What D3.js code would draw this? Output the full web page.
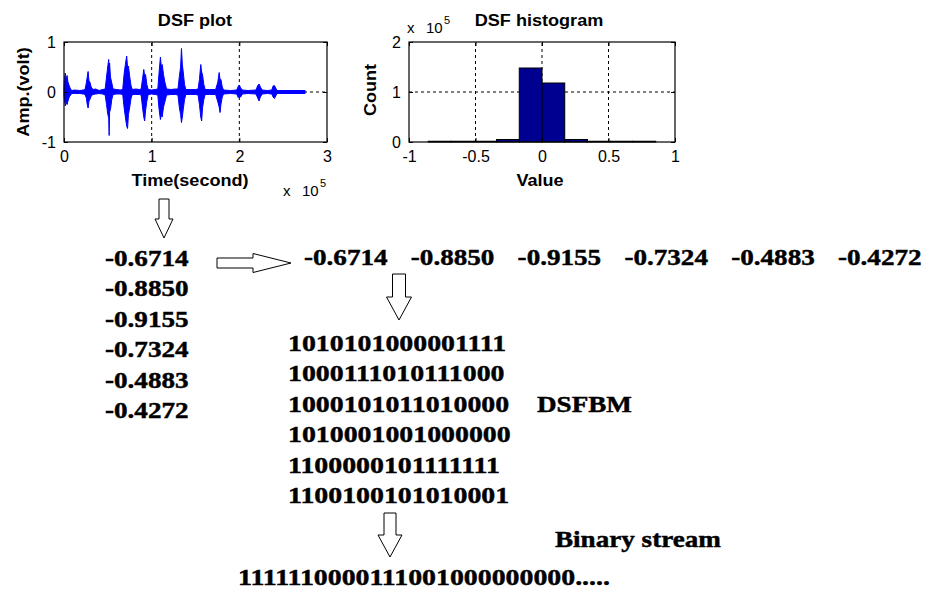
<!DOCTYPE html>
<html>
<head>
<meta charset="utf-8">
<script src="https://cdn.jsdelivr.net/npm/d3@7"></script>
<style>
  body { margin: 0; background: #fff; }
  svg { display: block; }
  .tick text { font-family: Arial, "Liberation Sans", sans-serif; font-size: 16px; fill: #000; }
  .lbl { font-family: Arial, "Liberation Sans", sans-serif; font-weight: bold; font-size: 16px; }
  .exp { font-family: Arial, "Liberation Sans", sans-serif; font-size: 15px; }
  .serif { font-family: "Times New Roman", "Liberation Serif", serif; font-weight: bold; font-size: 24px;
           stroke: #000; stroke-width: 0.45px; }
</style>
</head>
<body>
<div id="chart"></div>
<script>
// DSF signal envelope, time in units of 1e5 samples
var sigT = [0.00, 0.005, 0.015, 0.025, 0.035, 0.045, 0.06, 0.075, 0.09,
  0.12, 0.18, 0.22,
  0.24, 0.255, 0.265, 0.275, 0.285, 0.295, 0.31, 0.33, 0.36, 0.40, 0.44,
  0.47, 0.485, 0.50, 0.51, 0.515, 0.52, 0.53, 0.545, 0.56, 0.60, 0.64,
  0.67, 0.685, 0.70, 0.715, 0.725, 0.735, 0.75, 0.765, 0.78, 0.82, 0.86,
  0.88, 0.895, 0.91, 0.92, 0.93, 0.945, 0.96, 1.00, 1.04,
  1.07, 1.085, 1.10, 1.11, 1.12, 1.135, 1.15, 1.17, 1.22, 1.27,
  1.30, 1.315, 1.33, 1.34, 1.35, 1.36, 1.375, 1.39, 1.44, 1.50,
  1.53, 1.545, 1.56, 1.57, 1.58, 1.595, 1.61, 1.66,
  1.73, 1.755, 1.77, 1.78, 1.79, 1.805, 1.82, 1.90,
  1.97, 1.99, 2.00, 2.015, 2.035, 2.10,
  2.19, 2.21, 2.225, 2.24, 2.26, 2.32,
  2.37, 2.385, 2.40, 2.415, 2.43, 2.75];
var sigHi = [.05, .25, .38, .22, .33, .20, .12, .06, .03,
  .04, .03, .04,
  .05, .18, .30, .41, .22, .20, .10, .05, .06, .03, .05,
  .06, .30, .52, .65, .40, .58, .30, .18, .06, .05, .04,
  .05, .35, .55, .72, .50, .52, .30, .12, .05, .06, .05,
  .06, .25, .45, .32, .35, .15, .05, .04, .05,
  .06, .40, .70, .50, .55, .35, .20, .06, .05, .06,
  .06, .30, .50, .87, .55, .40, .15, .05, .05, .05,
  .06, .25, .55, .40, .35, .15, .05, .05,
  .05, .20, .39, .25, .25, .10, .04, .03,
  .04, .12, .14, .08, .04, .03,
  .04, .13, .16, .10, .04, .03,
  .04, .12, .13, .08, .03, .03];
var sigLo = [-.05, -.15, -.28, -.18, -.25, -.18, -.10, -.06, -.03,
  -.03, -.03, -.04,
  -.05, -.12, -.25, -.32, -.18, -.15, -.08, -.05, -.04, -.03, -.04,
  -.06, -.25, -.45, -.52, -.87, -.40, -.35, -.15, -.05, -.04, -.04,
  -.05, -.30, -.50, -.68, -.73, -.45, -.30, -.12, -.05, -.05, -.05,
  -.06, -.30, -.50, -.58, -.38, -.18, -.05, -.04, -.05,
  -.06, -.35, -.55, -.45, -.50, -.30, -.20, -.06, -.05, -.05,
  -.06, -.30, -.45, -.61, -.50, -.35, -.15, -.05, -.05, -.05,
  -.06, -.25, -.50, -.58, -.32, -.15, -.05, -.05,
  -.05, -.20, -.30, -.41, -.25, -.10, -.04, -.03,
  -.04, -.12, -.10, -.10, -.04, -.03,
  -.04, -.12, -.18, -.10, -.04, -.03,
  -.04, -.10, -.13, -.08, -.03, -.03];

// histogram, counts in units of 1e5
var histCenters = [-0.7695, -0.5985, -0.4275, -0.2565, -0.0855, 0.0855, 0.2565, 0.4275, 0.5985, 0.7695];
var histCounts = [0.015, 0.015, 0.015, 0.05, 1.48, 1.18, 0.05, 0.015, 0.015, 0.015];
var binWidth = 0.171;

var plotTicksX = [0, 1, 2, 3];
var plotTicksY = [-1, 0, 1];
var histTicksX = [-1, -0.5, 0, 0.5, 1];
var histTicksY = [0, 1, 2];

var dsfValues = ["-0.6714", "-0.8850", "-0.9155", "-0.7324", "-0.4883", "-0.4272"];
var dsfbmRows = ["1010101000001111", "1000111010111000", "1000101011010000",
  "1010001001000000", "1100000101111111", "1100100101010001"];
var binaryStream = "1111110000111001000000000.....";

var W = 925, H = 590, stretch = 1.13;

var svg = d3.select("#chart").append("svg")
  .attr("width", W)
  .attr("height", H);
svg.append("rect").attr("width", W).attr("height", H).attr("fill", "#fff");

function addText(x, y, str, cls, anchor, rot, sx) {
  return svg.append("text")
    .attr("class", cls)
    .attr("text-anchor", anchor || "start")
    .attr("transform", "translate(" + x + "," + y + ")" + (rot ? " rotate(" + rot + ")" : "") + " scale(" + (sx || stretch) + ",1)")
    .text(str);
}

// matlab style "x 10^5" multiplier
function expLabel(x, y) {
  svg.append("text").attr("class", "exp").attr("x", x).attr("y", y).text("x");
  svg.append("text").attr("class", "exp").attr("x", x + 19).attr("y", y).text("10");
  svg.append("text").attr("class", "exp").attr("x", x + 37).attr("y", y - 9)
    .style("font-size", "11px").text("5");
}

function drawAxes(g, x, y, tx, ty) {
  var x0 = x.range()[0], x1 = x.range()[1], y0 = y.range()[0], y1 = y.range()[1];
  g.append("g").attr("transform", "translate(0," + y0 + ")")
    .call(d3.axisBottom(x).tickValues(tx).tickSizeInner(-4).tickSizeOuter(0).tickPadding(9).tickFormat(String));
  g.append("g").attr("transform", "translate(0," + y1 + ")")
    .call(d3.axisTop(x).tickValues(tx).tickSizeInner(-4).tickSizeOuter(0).tickFormat(""));
  g.append("g").attr("transform", "translate(" + x0 + ",0)")
    .call(d3.axisLeft(y).tickValues(ty).tickSizeInner(-4).tickSizeOuter(0).tickPadding(8).tickFormat(String));
  g.append("g").attr("transform", "translate(" + x1 + ",0)")
    .call(d3.axisRight(y).tickValues(ty).tickSizeInner(-4).tickSizeOuter(0).tickFormat(""));
  g.selectAll(".domain").remove();
  g.selectAll(".tick line").attr("stroke", "#000");
  g.append("rect")
    .attr("x", x0).attr("y", y1)
    .attr("width", x1 - x0).attr("height", y0 - y1)
    .attr("fill", "none").attr("stroke", "#000").attr("stroke-width", 1.2);
}

function grid(g, x, y, xs, ys) {
  xs.forEach(function(v) {
    g.append("line").attr("x1", x(v)).attr("x2", x(v))
      .attr("y1", y.range()[0]).attr("y2", y.range()[1])
      .attr("stroke", "#000").attr("stroke-dasharray", "3,3");
  });
  ys.forEach(function(v) {
    g.append("line").attr("y1", y(v)).attr("y2", y(v))
      .attr("x1", x.range()[0]).attr("x2", x.range()[1])
      .attr("stroke", "#000").attr("stroke-dasharray", "3,3");
  });
}

// ---- DSF plot ----
var px = d3.scaleLinear().domain([0, 3]).range([64, 327]);
var py = d3.scaleLinear().domain([-1, 1]).range([142, 42]);
var gp = svg.append("g");
grid(gp, px, py, [1, 2], [0]);

var sig = sigT.map(function(t, i) { return { t: t, hi: sigHi[i], lo: sigLo[i] }; });
gp.append("path")
  .datum(sig)
  .attr("d", d3.area()
    .x(function(d) { return px(d.t); })
    .y0(function(d) { return py(d.lo); })
    .y1(function(d) { return py(d.hi); }))
  .attr("fill", "#0000ff")
  .attr("stroke", "#0000ff")
  .attr("stroke-width", 1);

drawAxes(gp, px, py, plotTicksX, plotTicksY);
addText(195, 26, "DSF plot", "lbl", "middle");
addText(190, 186, "Time(second)", "lbl", "middle");
addText(23, 92, "Amp.(volt)", "lbl", "middle", -90).attr("dy", "0.35em");
expLabel(283, 196);

// ---- DSF histogram ----
var hx = d3.scaleLinear().domain([-1, 1]).range([409, 675]);
var hy = d3.scaleLinear().domain([0, 2]).range([142, 42]);
var gh = svg.append("g");
grid(gh, hx, hy, [-0.5, 0, 0.5], [1]);

gh.selectAll(".bar")
  .data(histCenters)
  .enter().append("rect")
  .attr("class", "bar")
  .attr("x", function(d) { return hx(d - binWidth / 2); })
  .attr("width", function(d) { return hx(d + binWidth / 2) - hx(d - binWidth / 2); })
  .attr("y", function(d, i) { return hy(histCounts[i]); })
  .attr("height", function(d, i) { return hy(0) - hy(histCounts[i]); })
  .attr("fill", "#000090")
  .attr("stroke", "#000")
  .attr("stroke-width", 1);

drawAxes(gh, hx, hy, histTicksX, histTicksY);
addText(539, 26, "DSF histogram", "lbl", "middle");
addText(540, 186, "Value", "lbl", "middle");
addText(370, 90, "Count", "lbl", "middle", -90).attr("dy", "0.35em");
expLabel(407, 33);

// ---- arrows ----
function downArrow(cx, top, shaftW, shaftBot, headW, tip) {
  var s = shaftW / 2, h = headW / 2;
  svg.append("path")
    .attr("d", "M" + (cx - s) + "," + top + "H" + (cx + s) + "V" + shaftBot + "H" + (cx + h) +
      "L" + cx + "," + tip + "L" + (cx - h) + "," + shaftBot + "H" + (cx - s) + "Z")
    .attr("fill", "#fff").attr("stroke", "#000").attr("stroke-width", 1);
}
function rightArrow(left, cy, shaftH, shaftEnd, headH, tip) {
  var s = shaftH / 2, h = headH / 2;
  svg.append("path")
    .attr("d", "M" + left + "," + (cy - s) + "H" + shaftEnd + "V" + (cy - h) +
      "L" + tip + "," + cy + "L" + shaftEnd + "," + (cy + h) + "V" + (cy + s) + "H" + left + "Z")
    .attr("fill", "#fff").attr("stroke", "#000").attr("stroke-width", 1);
}
downArrow(164, 199, 10, 219, 18, 238);
rightArrow(217, 263, 10, 253, 19, 291);
downArrow(399, 274, 13, 297, 25, 320);
downArrow(390, 513, 12, 535, 24, 557);

// ---- numbers ----
var colY = d3.scaleLinear().domain([0, dsfValues.length - 1]).range([266, 418]);
dsfValues.forEach(function(v, i) { addText(105, colY(i), v, "serif"); });

var rowX = d3.scaleLinear().domain([0, dsfValues.length - 1]).range([304, 838]);
dsfValues.forEach(function(v, i) { addText(rowX(i), 265, v, "serif"); });

var bmY = d3.scaleLinear().domain([0, dsfbmRows.length - 1]).range([351, 503]);
dsfbmRows.forEach(function(v, i) { addText(288, bmY(i), v, "serif", null, 0, 1.16); });

addText(537, 412, "DSFBM", "serif");
addText(555, 547, "Binary stream", "serif");
addText(238, 585, binaryStream, "serif", null, 0, 1.16);
</script>
</body>
</html>
